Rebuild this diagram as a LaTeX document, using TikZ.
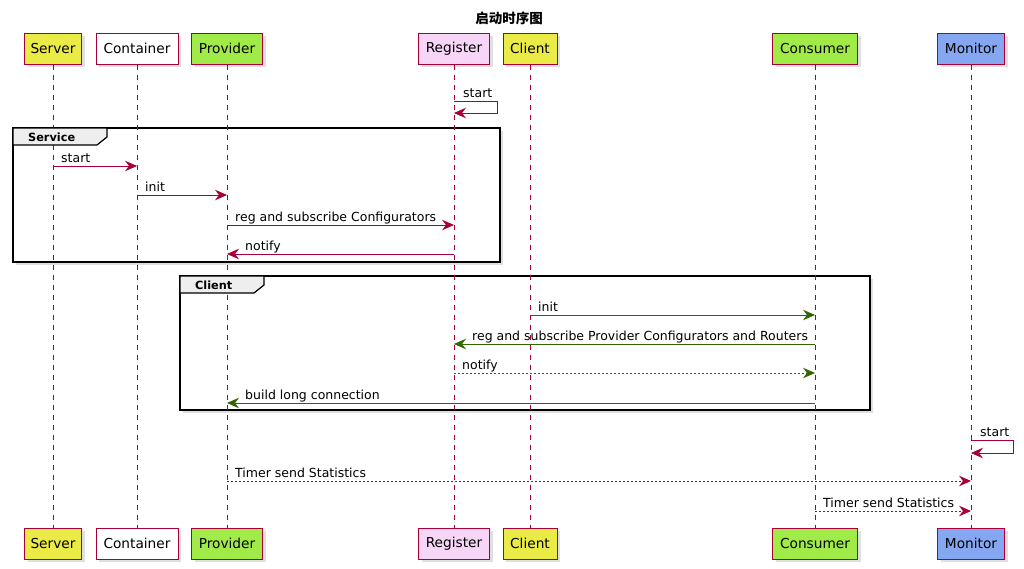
\documentclass[tikz,border=0pt]{standalone}
\usepackage{fontspec}
\setmainfont{DejaVu Sans}
\newfontfamily\cjk{Noto Sans CJK SC}
\usetikzlibrary{shadows,arrows.meta}
\definecolor{pborder}{HTML}{A80036}
\definecolor{cyel}{HTML}{EBEB47}
\definecolor{cgrn}{HTML}{A0EB47}
\definecolor{cpink}{HTML}{F7D5F7}
\definecolor{cblue}{HTML}{85A6F0}
\definecolor{gline}{HTML}{336600}
\definecolor{tabgray}{HTML}{EEEEEE}
\begin{document}
\begin{tikzpicture}[x=1pt,y=-1pt,
  part/.style={draw=pborder, line width=1pt, minimum height=31pt, inner sep=0pt,
    font=\fontsize{13.7}{16}\selectfont,
    drop shadow={shadow xshift=3pt,shadow yshift=-3pt,opacity=0.25}},
  life/.style={draw=pborder, line width=0.8pt, dash pattern=on 5pt off 5pt},
  msg/.style={draw=pborder, line width=0.9pt, -{Stealth[length=12pt,width=10.5pt,inset=4pt]}},
  gmsg/.style={msg, draw=gline},
  dmsg/.style={dash pattern=on 2pt off 2pt},
  lab/.style={font=\fontsize{12.5}{15}\selectfont, anchor=base west, inner sep=0pt, text=black},
  frame/.style={draw=black, line width=1.8pt, fill=white,
    drop shadow={shadow xshift=3pt,shadow yshift=-3pt,opacity=0.25}},
  tabshape/.style={draw=black, line width=1.2pt, fill=tabgray},
  tablab/.style={font=\bfseries\fontsize{11.3}{13}\selectfont, anchor=west, inner sep=0pt}
]
\useasboundingbox (0,0) rectangle (1024,568);
\fill[white] (0,0) rectangle (1024,568);

\node[font=\cjk\bfseries\fontsize{13.5}{15}\selectfont] (title) at (509,18.5) {启动时序图};

% frames
\draw[frame] (13,128) rectangle (500,262);
\draw[frame] (180,276) rectangle (870,410);

% participants top
\node[part, fill=cyel, minimum width=57pt] (sT) at (53,48.5) {Server};
\node[part, fill=white, minimum width=82pt] (cT) at (137,48.5) {Container};
\node[part, fill=cgrn, minimum width=71pt] (pT) at (227,48.5) {Provider};
\node[part, fill=cpink, minimum width=71pt] (rT) at (454,48.5) {Register};
\node[part, fill=cyel, minimum width=54pt] (clT) at (530,48.5) {Client};
\node[part, fill=cgrn, minimum width=85pt] (coT) at (815,48.5) {Consumer};
\node[part, fill=cblue, minimum width=67pt] (mT) at (971,48.5) {Monitor};
% participants bottom
\node[part, fill=cyel, minimum width=57pt] (sB) at (53,543.5) {Server};
\node[part, fill=white, minimum width=82pt] (cB) at (137,543.5) {Container};
\node[part, fill=cgrn, minimum width=71pt] (pB) at (227,543.5) {Provider};
\node[part, fill=cpink, minimum width=71pt] (rB) at (454,543.5) {Register};
\node[part, fill=cyel, minimum width=54pt] (clB) at (530,543.5) {Client};
\node[part, fill=cgrn, minimum width=85pt] (coB) at (815,543.5) {Consumer};
\node[part, fill=cblue, minimum width=67pt] (mB) at (971,543.5) {Monitor};

% lifelines
\foreach \p in {s,c,p,r,cl,co,m}{
  \draw[life] (\p T.south) -- (\p B.north);
}

% tabs
\draw[tabshape] (13,128) -- (107,128) -- (107,137) -- (97,145) -- (13,145) -- cycle;
\node[tablab] (tabS) at (28,137) {Service};
\draw[tabshape] (180,276) -- (264,276) -- (264,285) -- (254,293) -- (180,293) -- cycle;
\node[tablab] (tabC) at (195,285) {Client};

% Register self start
\draw[msg] (rT |- 0,101) -- ++(43,0) -- ++(0,12) -- (rT |- 0,113);
\node[lab] (l0) at (463,97) {start};

% Service
\draw[msg] (sT |- 0,166) -- (cT |- 0,166);
\node[lab] (l1) at (61,162) {start};
\draw[msg] (cT |- 0,195) -- (pT |- 0,195);
\node[lab] (l2) at (145,191) {init};
\draw[msg] (pT |- 0,225) -- (rT |- 0,225);
\node[lab] (l3) at (235,221) {reg and subscribe Configurators};
\draw[msg] (rT |- 0,254) -- (pT |- 0,254);
\node[lab] (l4) at (245,250) {notify};

% Client
\draw[gmsg] (clT |- 0,315) -- (coT |- 0,315);
\node[lab] (l5) at (538,311) {init};
\draw[gmsg] (coT |- 0,344) -- (rT |- 0,344);
\node[lab] (l6) at (472,340) {reg and subscribe Provider Configurators and Routers};
\draw[gmsg, dmsg] (rT |- 0,373) -- (coT |- 0,373);
\node[lab] (l7) at (462,369) {notify};
\draw[gmsg] (coT |- 0,403) -- (pT |- 0,403);
\node[lab] (l8) at (245,399) {build long connection};

% Monitor
\draw[msg] (mT |- 0,440) -- ++(42,0) -- ++(0,13) -- (mT |- 0,453);
\node[lab] (l9) at (980,436) {start};
\draw[msg, dmsg] (pT |- 0,481) -- (mT |- 0,481);
\node[lab] (l10) at (235,477) {Timer send Statistics};
\draw[msg, dmsg] (coT |- 0,511) -- (mT |- 0,511);
\node[lab] (l11) at (823,507) {Timer send Statistics};
\end{tikzpicture}
\end{document}
